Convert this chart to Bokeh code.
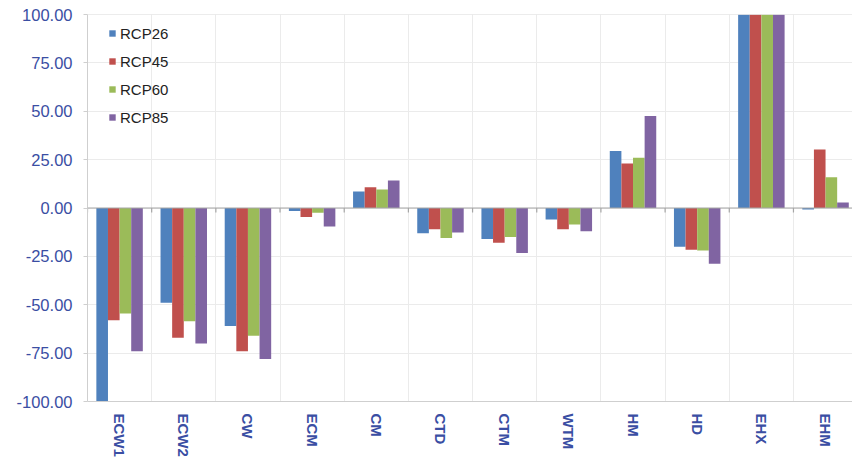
from bokeh.plotting import figure
from bokeh.models import FixedTicker, NumeralTickFormatter, Span, Range1d, ColumnDataSource
from bokeh.embed import file_html
from bokeh.resources import INLINE

categories = ["ECW1", "ECW2", "CW", "ECM", "CM", "CTD", "CTM", "WTM", "HM", "HD", "EHX", "EHM"]
series_names = ["RCP26", "RCP45", "RCP60", "RCP85"]
rcp26 = [-100.0, -49.0, -61.0, -1.5, 8.5, -13.0, -16.0, -6.0, 29.5, -20.0, 100.0, -0.8]
rcp45 = [-58.0, -67.0, -74.0, -4.7, 10.7, -11.0, -18.0, -11.0, 23.0, -21.6, 100.0, 30.2]
rcp60 = [-54.5, -58.5, -66.0, -2.4, 9.5, -15.5, -15.0, -8.5, 26.0, -22.0, 100.0, 15.9]
rcp85 = [-74.0, -70.0, -78.0, -9.5, 14.2, -12.7, -23.3, -12.0, 47.5, -28.8, 100.0, 2.9]
y_ticks = [-100, -75, -50, -25, 0, 25, 50, 75, 100]

colors = ["#4F81BD", "#C0504D", "#9BBB59", "#8064A2"]
label_color = "#3a4ea3"
font = "Liberation Sans"

n = len(categories)
boundaries = list(range(n + 1))
centers = [i + 0.5 for i in range(n)]

p = figure(width=852, height=465, output_backend="svg", toolbar_location=None,
           x_range=Range1d(0, 11.92), y_range=Range1d(-100, 100),
           min_border_left=87, min_border_top=14, min_border_right=0, min_border_bottom=64)
p.outline_line_color = None
p.background_fill_color = "white"
p.border_fill_color = "white"

bar_w = 0.181
offsets = [-1.5 * bar_w, -0.5 * bar_w, 0.5 * bar_w, 1.5 * bar_w]
for vals, name, col, off in zip([rcp26, rcp45, rcp60, rcp85], series_names, colors, offsets):
    src = ColumnDataSource(dict(x=[c + off for c in centers], top=vals))
    p.vbar(x="x", top="top", bottom=0, width=bar_w, source=src, fill_color=col,
           line_color=None, legend_label=name)

# zero line with category ticks
p.add_layout(Span(location=0, dimension="width", line_color="#a6a6a6", line_width=1.2))
tick_src = ColumnDataSource(dict(x=boundaries, y0=[0] * len(boundaries), y1=[-2.3] * len(boundaries)))
p.segment(x0="x", x1="x", y0="y0", y1="y1", source=tick_src, line_color="#a6a6a6", line_width=1.2)

# grids
p.xgrid.ticker = FixedTicker(ticks=boundaries)
p.xgrid.grid_line_color = "#ebebeb"
p.ygrid.ticker = FixedTicker(ticks=y_ticks)
p.ygrid.grid_line_color = "#ebebeb"
p.add_layout(Span(location=100, dimension="width", line_color="#d9d9d9", line_width=1))

# y axis
p.yaxis.ticker = FixedTicker(ticks=y_ticks)
p.yaxis.formatter = NumeralTickFormatter(format="0.00")
p.yaxis.major_label_text_font = font
p.yaxis.major_label_text_font_size = "16.5px"
p.yaxis.major_label_text_color = label_color
p.yaxis.axis_line_color = "#cfcfcf"
p.yaxis.major_tick_line_color = "#cfcfcf"
p.yaxis.major_tick_out = 4
p.yaxis.major_tick_in = 0
p.yaxis.minor_tick_line_color = None
p.yaxis.major_label_standoff = 11

# x axis
p.xaxis.ticker = FixedTicker(ticks=centers)
p.xaxis.major_label_overrides = {c: lab for c, lab in zip(centers, categories)}
p.xaxis.major_label_orientation = "vertical"
p.xaxis.major_label_text_font = font
p.xaxis.major_label_text_font_style = "bold"
p.xaxis.major_label_text_font_size = "15px"
p.xaxis.major_label_text_color = label_color
p.xaxis.axis_line_color = "#cfcfcf"
p.xaxis.major_tick_line_color = None
p.xaxis.minor_tick_line_color = None
p.xaxis.major_label_standoff = 6

# legend
lg = p.legend[0]
lg.location = (21, 274)
lg.background_fill_alpha = 0
lg.border_line_color = None
lg.padding = 0
lg.margin = 0
lg.spacing = 8
lg.label_height = 20
lg.glyph_height = 8
lg.glyph_width = 8
lg.label_standoff = 4
lg.label_text_font = font
lg.label_text_font_size = "15px"
lg.label_text_color = "#222222"

open("out.html", "w").write(file_html(p, INLINE))
